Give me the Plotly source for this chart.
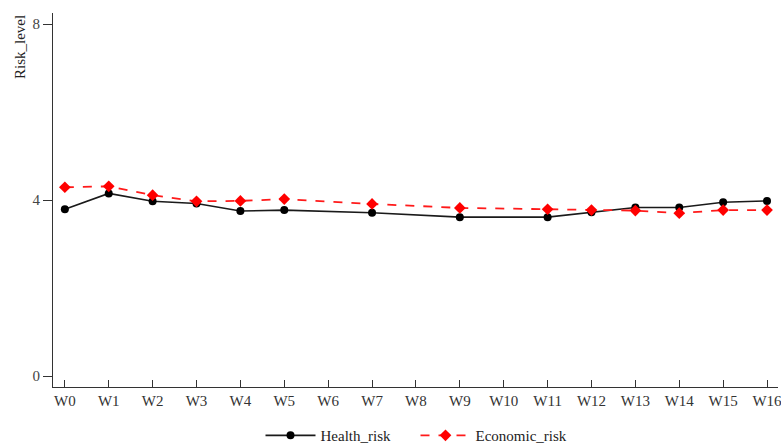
import plotly.graph_objects as go

waves = ["W0","W1","W2","W3","W4","W5","W6","W7","W8","W9","W10","W11","W12","W13","W14","W15","W16"]
health_risk = [3.79, 4.15, 3.97, 3.92, 3.75, 3.77, None, 3.71, None, 3.61, None, 3.61, 3.72, 3.83, 3.83, 3.95, 3.98]
economic_risk = [4.29, 4.31, 4.11, 3.97, 3.98, 4.02, None, 3.91, None, 3.82, None, 3.79, 3.77, 3.76, 3.70, 3.77, 3.77]
y_ticks = [0, 4, 8]

xpos = list(range(len(waves)))
FONT = "Liberation Serif"

fig = go.Figure()
fig.add_trace(go.Scatter(
    x=xpos, y=health_risk, name="Health_risk", mode="lines+markers", connectgaps=True,
    line=dict(color="#1a1a1a", width=1.6),
    marker=dict(symbol="circle", size=8, color="black"),
))
fig.add_trace(go.Scatter(
    x=xpos, y=economic_risk, name="Economic_risk", mode="lines+markers", connectgaps=True,
    line=dict(color="#ff1a1a", width=1.8, dash="dash"),
    marker=dict(symbol="diamond", size=9, color="red"),
))

fig.update_layout(
    width=781, height=444,
    margin=dict(l=53, r=3, t=13, b=57, autoexpand=False),
    paper_bgcolor="white", plot_bgcolor="white",
    font=dict(family=FONT, size=15, color="#333"),
    showlegend=True,
    legend=dict(orientation="h", x=0.5, xanchor="center", y=-0.13, yanchor="middle",
                font=dict(family=FONT, size=15, color="#222"), itemwidth=50,
                entrywidth=90, entrywidthmode="pixels", tracegroupgap=0),
    xaxis=dict(
        range=[-0.27, 16.25], tickmode="array", tickvals=xpos, ticktext=waves,
        ticks="inside", ticklen=7, tickcolor="#333", showline=True, linecolor="#333",
        linewidth=1.2, showgrid=False, zeroline=False, automargin=False,
        ticklabeloverflow="allow",
        tickfont=dict(family=FONT, size=15, color="#333"),
    ),
    yaxis=dict(
        range=[-0.25, 8.25], tickmode="array", tickvals=y_ticks,
        ticks="outside", ticklen=9, tickcolor="#333", showline=True, linecolor="#333",
        linewidth=1.2, showgrid=False, zeroline=False, automargin=False,
        tickfont=dict(family=FONT, size=15, color="#444"),
    ),
    annotations=[dict(
        text="Risk_level", textangle=-90, showarrow=False,
        xref="paper", yref="paper", x=0, y=1, xanchor="center", yanchor="top",
        xshift=-33, yshift=0, font=dict(family=FONT, size=15, color="#222"),
    )],
)

fig.write_html("out.html", config={"displayModeBar": False},
               post_script="document.body.style.margin='0';document.body.style.overflow='hidden';")
